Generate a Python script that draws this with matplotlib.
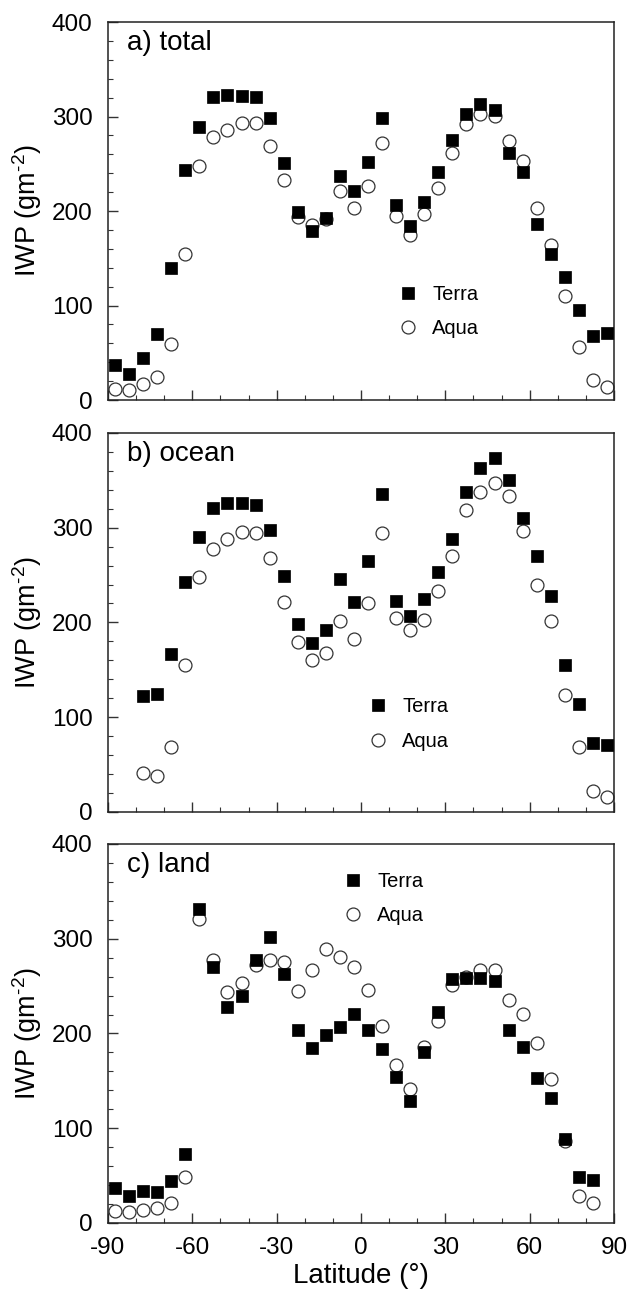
import numpy as np
import matplotlib
matplotlib.use('Agg')
import matplotlib.pyplot as plt
from matplotlib.ticker import MultipleLocator

plt.rcParams['font.family'] = ['Liberation Sans', 'DejaVu Sans']
plt.rcParams['axes.unicode_minus'] = False
plt.rcParams['mathtext.fontset'] = 'custom'
plt.rcParams['mathtext.rm'] = 'Liberation Sans'
plt.rcParams['mathtext.it'] = 'Liberation Sans'

# 5 degree latitude bins, -87.5 ... 87.5
lat = np.arange(-87.5, 90, 5)

# a) total
terra_total = [37, 28, 44, 70, 140, 243, 289, 321, 323, 322, 321, 298, 251, 199, 179,
               193, 237, 221, 252, 298, 206, 184, 210, 241, 275, 303, 313, 307, 261,
               241, 186, 155, 130, 95, 68, 71]
aqua_total = [12, 11, 17, 24, 59, 154, 248, 278, 286, 293, 293, 269, 233, 194, 185,
              192, 221, 203, 226, 272, 195, 175, 197, 224, 261, 292, 303, 301, 274,
              253, 203, 164, 110, 56, 21, 14]

# b) ocean (no data at the two southernmost bins)
terra_ocean = [np.nan, np.nan, 122, 125, 167, 243, 290, 321, 326, 326, 324, 298, 249, 198, 178,
               192, 246, 222, 265, 336, 223, 207, 225, 253, 288, 338, 363, 374, 350,
               310, 270, 228, 155, 114, 73, 71]
aqua_ocean = [np.nan, np.nan, 41, 38, 69, 155, 248, 277, 288, 295, 294, 268, 222, 179, 160,
              168, 202, 182, 220, 294, 205, 192, 203, 233, 270, 319, 338, 347, 333,
              296, 239, 201, 123, 69, 22, 16]

# c) land (no data at the northernmost bin)
terra_land = [37, 29, 34, 33, 44, 73, 331, 270, 228, 240, 278, 302, 263, 204, 185,
              198, 207, 221, 204, 184, 154, 129, 180, 223, 258, 259, 259, 255, 204,
              186, 153, 132, 89, 49, 45, np.nan]
aqua_land = [13, 12, 14, 16, 21, 49, 321, 278, 244, 253, 272, 278, 275, 245, 267,
             289, 281, 270, 246, 208, 167, 141, 186, 213, 251, 260, 267, 267, 235,
             221, 190, 152, 87, 29, 21, np.nan]

panels = [('a) total', terra_total, aqua_total, (0.573, 0.234)),
          ('b) ocean', terra_ocean, aqua_ocean, (0.514, 0.232)),
          ('c) land', terra_land, aqua_land, (0.464, 0.856))]

fig = plt.figure(figsize=(6.29, 12.95), dpi=100)
rects = [[0.1717, 0.6911, 0.8045, 0.2919],
         [0.1717, 0.3730, 0.8045, 0.2927],
         [0.1717, 0.0556, 0.8045, 0.2927]]

for i, (title, terra, aqua, legpos) in enumerate(panels):
    ax = fig.add_axes(rects[i])
    ax.plot(lat, aqua, 'o', ms=9.3, mfc='white', mec='#333333', mew=0.9,
            label='Aqua', zorder=2)
    ax.plot(lat, terra, 's', ms=9.3, mfc='black', mec='black', mew=0.5,
            label='Terra', zorder=3)
    ax.set_xlim(-90, 90)
    ax.set_ylim(0, 400)
    ax.xaxis.set_major_locator(MultipleLocator(30))
    ax.xaxis.set_minor_locator(MultipleLocator(10))
    ax.yaxis.set_major_locator(MultipleLocator(100))
    ax.yaxis.set_minor_locator(MultipleLocator(20))
    ax.tick_params(which='both', direction='in', top=False, right=False,
                   labelsize=17.5, color='#333333')
    ax.tick_params(which='major', length=7, width=1)
    ax.tick_params(which='minor', length=3.5, width=0.8)
    ax.tick_params(axis='y', pad=11)
    ax.tick_params(axis='x', pad=10)
    for sp in ax.spines.values():
        sp.set_color('#222222')
        sp.set_linewidth(1.1)
    # hyphen (not minus) in the exponent, as in the original figure
    ax.set_ylabel('IWP (gm$^{\u2010 2}$)', fontsize=19.5, labelpad=6)
    ax.text(0.0375, 0.944, title, transform=ax.transAxes, fontsize=20,
            va='center', ha='left')
    h, l = ax.get_legend_handles_labels()
    ax.legend(h[::-1], l[::-1], loc='center left', bbox_to_anchor=legpos,
              frameon=False, fontsize=14.5, borderaxespad=0, borderpad=0,
              handlelength=1, handletextpad=0.7, labelspacing=0.75)
    if i < 2:
        ax.tick_params(axis='x', labelbottom=False)
    else:
        ax.set_xlabel('Latitude (°)', fontsize=20, labelpad=3)

plt.savefig('out.png', dpi=100)
